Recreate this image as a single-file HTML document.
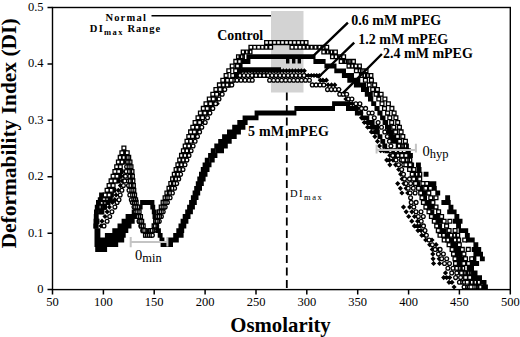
<!DOCTYPE html>
<html><head><meta charset="utf-8"><style>
html,body{margin:0;padding:0;background:#fff;}
svg{display:block;}
</style></head><body>
<svg width="520" height="337" viewBox="0 0 520 337">
<rect width="520" height="337" fill="#fff"/>
<rect x="271" y="11" width="32.5" height="81.5" fill="#d3d3d3"/>
<path d="M94.5 228.2h4.9v4.9h-4.9zM94.5 232.9h4.9v4.9h-4.9zM94.5 237.6h4.9v4.9h-4.9zM94.5 242.2h4.9v4.9h-4.9zM95.2 247.0h4.9v4.9h-4.9zM98.4 247.0h4.9v4.9h-4.9zM102.2 247.0h4.9v4.9h-4.9zM106.0 242.2h4.9v4.9h-4.9zM109.8 242.2h4.9v4.9h-4.9zM113.3 242.2h4.9v4.9h-4.9zM115.6 237.6h4.9v4.9h-4.9zM119.3 237.6h4.9v4.9h-4.9zM120.7 232.9h4.9v4.9h-4.9zM123.4 228.2h4.9v4.9h-4.9zM126.6 223.5h4.9v4.9h-4.9zM129.8 218.8h4.9v4.9h-4.9zM132.5 214.1h4.9v4.9h-4.9zM134.9 209.4h4.9v4.9h-4.9zM137.7 204.7h4.9v4.9h-4.9zM140.1 200.0h4.9v4.9h-4.9zM143.5 200.0h4.9v4.9h-4.9zM146.5 200.0h4.9v4.9h-4.9zM149.5 200.0h4.9v4.9h-4.9zM150.3 204.7h4.9v4.9h-4.9zM151.8 209.4h4.9v4.9h-4.9zM152.5 214.1h4.9v4.9h-4.9zM153.1 218.8h4.9v4.9h-4.9zM154.2 223.5h4.9v4.9h-4.9zM156.0 228.2h4.9v4.9h-4.9zM157.7 232.9h4.9v4.9h-4.9zM159.5 237.6h4.9v4.9h-4.9zM162.1 242.2h4.9v4.9h-4.9zM165.6 242.2h4.9v4.9h-4.9zM168.0 237.6h4.9v4.9h-4.9zM171.0 237.6h4.9v4.9h-4.9zM173.2 232.9h4.9v4.9h-4.9zM176.3 228.2h4.9v4.9h-4.9zM178.5 223.5h4.9v4.9h-4.9zM180.6 218.8h4.9v4.9h-4.9zM182.7 214.1h4.9v4.9h-4.9zM185.2 209.4h4.9v4.9h-4.9zM187.1 204.7h4.9v4.9h-4.9zM189.1 200.0h4.9v4.9h-4.9zM190.9 195.2h4.9v4.9h-4.9zM192.6 190.6h4.9v4.9h-4.9zM194.2 185.9h4.9v4.9h-4.9zM195.8 181.2h4.9v4.9h-4.9zM197.3 176.5h4.9v4.9h-4.9zM199.0 171.8h4.9v4.9h-4.9zM200.8 167.1h4.9v4.9h-4.9zM202.6 162.4h4.9v4.9h-4.9zM204.8 157.7h4.9v4.9h-4.9zM208.1 153.0h4.9v4.9h-4.9zM210.8 148.3h4.9v4.9h-4.9zM214.3 143.6h4.9v4.9h-4.9zM217.6 143.6h4.9v4.9h-4.9zM218.2 138.9h4.9v4.9h-4.9zM221.5 138.9h4.9v4.9h-4.9zM222.1 134.2h4.9v4.9h-4.9zM225.5 134.2h4.9v4.9h-4.9zM227.0 129.5h4.9v4.9h-4.9zM230.7 129.5h4.9v4.9h-4.9zM232.2 124.8h4.9v4.9h-4.9zM235.8 124.8h4.9v4.9h-4.9zM237.3 120.0h4.9v4.9h-4.9zM240.3 120.0h4.9v4.9h-4.9zM242.6 115.4h4.9v4.9h-4.9zM245.9 115.4h4.9v4.9h-4.9zM249.7 115.4h4.9v4.9h-4.9zM253.6 115.4h4.9v4.9h-4.9zM254.6 110.6h4.9v4.9h-4.9zM258.6 110.6h4.9v4.9h-4.9zM262.6 110.6h4.9v4.9h-4.9zM266.6 110.6h4.9v4.9h-4.9zM270.5 110.6h4.9v4.9h-4.9zM274.5 110.6h4.9v4.9h-4.9zM278.3 110.6h4.9v4.9h-4.9zM281.5 110.6h4.9v4.9h-4.9zM285.5 110.6h4.9v4.9h-4.9zM288.5 110.6h4.9v4.9h-4.9zM291.5 110.6h4.9v4.9h-4.9zM294.4 106.0h4.9v4.9h-4.9zM298.3 106.0h4.9v4.9h-4.9zM302.2 106.0h4.9v4.9h-4.9zM306.1 106.0h4.9v4.9h-4.9zM310.1 106.0h4.9v4.9h-4.9zM314.1 106.0h4.9v4.9h-4.9zM318.1 106.0h4.9v4.9h-4.9zM322.1 106.0h4.9v4.9h-4.9zM326.1 106.0h4.9v4.9h-4.9zM330.1 106.0h4.9v4.9h-4.9zM332.1 101.2h4.9v4.9h-4.9zM336.1 101.2h4.9v4.9h-4.9zM339.1 101.2h4.9v4.9h-4.9zM342.1 101.2h4.9v4.9h-4.9zM345.1 101.2h4.9v4.9h-4.9zM346.0 106.0h4.9v4.9h-4.9zM349.6 106.0h4.9v4.9h-4.9zM353.2 106.0h4.9v4.9h-4.9zM354.9 110.6h4.9v4.9h-4.9zM358.2 110.6h4.9v4.9h-4.9zM361.4 115.4h4.9v4.9h-4.9zM364.4 115.4h4.9v4.9h-4.9zM366.5 120.0h4.9v4.9h-4.9zM369.7 120.0h4.9v4.9h-4.9zM371.0 124.8h4.9v4.9h-4.9zM374.2 124.8h4.9v4.9h-4.9zM374.9 129.5h4.9v4.9h-4.9zM377.5 134.2h4.9v4.9h-4.9zM380.3 138.9h4.9v4.9h-4.9zM382.3 143.6h4.9v4.9h-4.9zM384.5 148.3h4.9v4.9h-4.9zM388.0 148.3h4.9v4.9h-4.9zM391.9 148.3h4.9v4.9h-4.9zM393.8 153.0h4.9v4.9h-4.9zM397.7 153.0h4.9v4.9h-4.9zM401.1 153.0h4.9v4.9h-4.9zM401.9 157.7h4.9v4.9h-4.9zM404.5 162.4h4.9v4.9h-4.9zM407.6 162.4h4.9v4.9h-4.9zM408.3 167.1h4.9v4.9h-4.9zM411.3 171.8h4.9v4.9h-4.9zM413.2 176.5h4.9v4.9h-4.9zM415.3 181.2h4.9v4.9h-4.9zM418.4 185.9h4.9v4.9h-4.9zM420.7 190.6h4.9v4.9h-4.9zM422.1 195.2h4.9v4.9h-4.9zM423.8 200.0h4.9v4.9h-4.9zM426.3 204.7h4.9v4.9h-4.9zM429.4 209.4h4.9v4.9h-4.9zM431.9 214.1h4.9v4.9h-4.9zM434.3 218.8h4.9v4.9h-4.9zM437.2 223.5h4.9v4.9h-4.9zM438.9 228.2h4.9v4.9h-4.9zM440.8 232.9h4.9v4.9h-4.9zM444.2 232.9h4.9v4.9h-4.9zM444.9 237.6h4.9v4.9h-4.9zM448.3 237.6h4.9v4.9h-4.9zM449.7 242.2h4.9v4.9h-4.9zM452.6 247.0h4.9v4.9h-4.9zM453.8 251.7h4.9v4.9h-4.9zM455.3 256.4h4.9v4.9h-4.9zM455.5 261.1h4.9v4.9h-4.9zM456.3 265.8h4.9v4.9h-4.9zM459.4 265.8h4.9v4.9h-4.9zM460.1 270.5h4.9v4.9h-4.9zM463.6 270.5h4.9v4.9h-4.9zM464.6 275.2h4.9v4.9h-4.9zM160.6 242.2h4.9v4.9h-4.9zM164.4 242.2h4.9v4.9h-4.9zM168.1 242.2h4.9v4.9h-4.9zM170.6 237.6h4.9v4.9h-4.9zM173.9 237.6h4.9v4.9h-4.9zM175.7 232.9h4.9v4.9h-4.9zM178.7 232.9h4.9v4.9h-4.9zM179.3 228.2h4.9v4.9h-4.9zM181.4 223.5h4.9v4.9h-4.9zM183.5 218.8h4.9v4.9h-4.9zM185.6 214.1h4.9v4.9h-4.9zM188.0 209.4h4.9v4.9h-4.9zM190.0 204.7h4.9v4.9h-4.9zM191.9 200.0h4.9v4.9h-4.9zM193.6 195.2h4.9v4.9h-4.9zM195.3 190.6h4.9v4.9h-4.9zM197.1 185.9h4.9v4.9h-4.9zM198.9 181.2h4.9v4.9h-4.9zM200.7 176.5h4.9v4.9h-4.9zM202.6 171.8h4.9v4.9h-4.9zM204.6 167.1h4.9v4.9h-4.9zM206.6 162.4h4.9v4.9h-4.9zM209.8 157.7h4.9v4.9h-4.9zM212.5 153.0h4.9v4.9h-4.9zM215.8 148.3h4.9v4.9h-4.9zM219.1 148.3h4.9v4.9h-4.9zM219.7 143.6h4.9v4.9h-4.9zM222.9 143.6h4.9v4.9h-4.9zM223.6 138.9h4.9v4.9h-4.9zM226.8 138.9h4.9v4.9h-4.9zM228.3 134.2h4.9v4.9h-4.9zM231.8 134.2h4.9v4.9h-4.9zM232.5 129.5h4.9v4.9h-4.9zM236.0 129.5h4.9v4.9h-4.9zM237.5 124.8h4.9v4.9h-4.9zM240.5 124.8h4.9v4.9h-4.9zM242.7 120.0h4.9v4.9h-4.9zM99.5 237.6h4.9v4.9h-4.9zM103.1 237.6h4.9v4.9h-4.9zM104.9 232.9h4.9v4.9h-4.9zM108.5 232.9h4.9v4.9h-4.9zM112.3 228.2h4.9v4.9h-4.9zM116.0 228.2h4.9v4.9h-4.9zM117.5 223.5h4.9v4.9h-4.9zM120.9 223.5h4.9v4.9h-4.9zM121.6 218.8h4.9v4.9h-4.9zM125.0 218.8h4.9v4.9h-4.9zM125.6 214.1h4.9v4.9h-4.9zM129.4 214.1h4.9v4.9h-4.9zM131.7 209.4h4.9v4.9h-4.9zM135.1 209.4h4.9v4.9h-4.9zM135.7 204.7h4.9v4.9h-4.9zM100.5 242.2h4.9v4.9h-4.9zM104.2 242.2h4.9v4.9h-4.9zM105.1 237.6h4.9v4.9h-4.9zM108.8 237.6h4.9v4.9h-4.9zM111.9 237.6h4.9v4.9h-4.9zM112.7 232.9h4.9v4.9h-4.9zM115.7 232.9h4.9v4.9h-4.9zM117.9 228.2h4.9v4.9h-4.9zM121.2 228.2h4.9v4.9h-4.9zM121.8 223.5h4.9v4.9h-4.9zM125.1 223.5h4.9v4.9h-4.9zM126.4 218.8h4.9v4.9h-4.9zM129.7 218.8h4.9v4.9h-4.9zM130.3 214.1h4.9v4.9h-4.9zM99.5 247.0h4.9v4.9h-4.9zM101.4 242.2h4.9v4.9h-4.9zM105.1 242.2h4.9v4.9h-4.9zM108.7 242.2h4.9v4.9h-4.9zM112.2 237.6h4.9v4.9h-4.9zM116.0 237.6h4.9v4.9h-4.9zM117.5 232.9h4.9v4.9h-4.9zM120.8 232.9h4.9v4.9h-4.9zM121.3 228.2h4.9v4.9h-4.9zM124.6 223.5h4.9v4.9h-4.9zM127.4 218.8h4.9v4.9h-4.9zM130.8 214.1h4.9v4.9h-4.9zM95.5 228.2h4.9v4.9h-4.9zM95.5 232.9h4.9v4.9h-4.9zM95.5 237.6h4.9v4.9h-4.9zM95.9 242.2h4.9v4.9h-4.9zM97.2 247.0h4.9v4.9h-4.9z" fill="#000"/>
<path d="M93.5 223.5h4.9v4.9h-4.9zM94.4 218.8h4.9v4.9h-4.9zM99.3 209.4h4.9v4.9h-4.9zM102.1 204.7h4.9v4.9h-4.9zM105.4 200.0h4.9v4.9h-4.9zM107.7 197.2h4.9v4.9h-4.9zM109.0 192.6h4.9v4.9h-4.9zM111.3 187.9h4.9v4.9h-4.9zM115.7 178.5h4.9v4.9h-4.9zM117.2 173.8h4.9v4.9h-4.9zM118.6 169.1h4.9v4.9h-4.9zM120.8 159.7h4.9v4.9h-4.9zM121.5 155.0h4.9v4.9h-4.9zM122.7 150.3h4.9v4.9h-4.9zM125.2 155.0h4.9v4.9h-4.9zM126.6 159.7h4.9v4.9h-4.9zM128.8 173.8h4.9v4.9h-4.9zM129.3 178.5h4.9v4.9h-4.9zM129.8 183.2h4.9v4.9h-4.9zM130.2 187.9h4.9v4.9h-4.9zM130.8 192.6h4.9v4.9h-4.9zM131.8 197.2h4.9v4.9h-4.9zM132.4 200.0h4.9v4.9h-4.9zM133.4 204.7h4.9v4.9h-4.9zM134.8 209.4h4.9v4.9h-4.9zM136.3 214.1h4.9v4.9h-4.9zM137.7 218.8h4.9v4.9h-4.9zM141.7 228.2h4.9v4.9h-4.9zM145.3 228.2h4.9v4.9h-4.9zM147.9 232.9h4.9v4.9h-4.9zM163.8 200.0h4.9v4.9h-4.9zM166.0 195.2h4.9v4.9h-4.9zM176.4 171.8h4.9v4.9h-4.9zM184.1 153.0h4.9v4.9h-4.9zM186.1 148.3h4.9v4.9h-4.9zM192.4 134.2h4.9v4.9h-4.9zM194.4 129.5h4.9v4.9h-4.9zM196.6 124.8h4.9v4.9h-4.9zM204.6 110.6h4.9v4.9h-4.9zM207.4 106.0h4.9v4.9h-4.9zM210.2 101.2h4.9v4.9h-4.9zM213.6 96.5h4.9v4.9h-4.9zM219.6 87.1h4.9v4.9h-4.9zM226.5 82.5h4.9v4.9h-4.9zM227.2 77.8h4.9v4.9h-4.9zM233.6 73.0h4.9v4.9h-4.9zM236.7 73.0h4.9v4.9h-4.9zM236.9 68.4h4.9v4.9h-4.9zM237.7 63.6h4.9v4.9h-4.9zM238.8 59.0h4.9v4.9h-4.9zM242.1 59.0h4.9v4.9h-4.9zM245.5 59.0h4.9v4.9h-4.9zM246.4 54.2h4.9v4.9h-4.9zM249.8 54.2h4.9v4.9h-4.9zM252.8 54.2h4.9v4.9h-4.9zM255.8 54.2h4.9v4.9h-4.9zM258.8 54.2h4.9v4.9h-4.9zM261.8 54.2h4.9v4.9h-4.9zM264.8 54.2h4.9v4.9h-4.9zM267.8 54.2h4.9v4.9h-4.9zM270.8 54.2h4.9v4.9h-4.9zM273.8 54.2h4.9v4.9h-4.9zM276.8 54.2h4.9v4.9h-4.9zM279.8 54.2h4.9v4.9h-4.9zM282.8 54.2h4.9v4.9h-4.9zM285.8 54.2h4.9v4.9h-4.9zM288.8 54.2h4.9v4.9h-4.9zM291.8 54.2h4.9v4.9h-4.9zM294.8 54.2h4.9v4.9h-4.9zM297.8 54.2h4.9v4.9h-4.9zM300.8 54.2h4.9v4.9h-4.9zM303.8 54.2h4.9v4.9h-4.9zM306.8 54.2h4.9v4.9h-4.9zM310.6 54.2h4.9v4.9h-4.9zM313.4 59.0h4.9v4.9h-4.9zM317.1 59.0h4.9v4.9h-4.9zM320.7 59.0h4.9v4.9h-4.9zM324.4 63.6h4.9v4.9h-4.9zM328.0 63.6h4.9v4.9h-4.9zM331.6 63.6h4.9v4.9h-4.9zM334.3 68.4h4.9v4.9h-4.9zM337.7 68.4h4.9v4.9h-4.9zM341.1 68.4h4.9v4.9h-4.9zM341.9 73.0h4.9v4.9h-4.9zM345.0 73.0h4.9v4.9h-4.9zM347.3 77.8h4.9v4.9h-4.9zM350.4 77.8h4.9v4.9h-4.9zM353.9 82.5h4.9v4.9h-4.9zM357.3 82.5h4.9v4.9h-4.9zM360.4 82.5h4.9v4.9h-4.9zM361.0 87.1h4.9v4.9h-4.9zM364.2 87.1h4.9v4.9h-4.9zM364.8 91.9h4.9v4.9h-4.9zM367.9 91.9h4.9v4.9h-4.9zM368.4 96.5h4.9v4.9h-4.9zM371.2 101.2h4.9v4.9h-4.9zM374.5 106.0h4.9v4.9h-4.9zM377.6 110.6h4.9v4.9h-4.9zM380.1 115.4h4.9v4.9h-4.9zM382.6 120.0h4.9v4.9h-4.9zM385.0 124.8h4.9v4.9h-4.9zM386.9 129.5h4.9v4.9h-4.9zM388.8 134.2h4.9v4.9h-4.9zM390.6 138.9h4.9v4.9h-4.9zM393.8 138.9h4.9v4.9h-4.9zM395.7 143.6h4.9v4.9h-4.9zM398.9 143.6h4.9v4.9h-4.9zM400.0 148.3h4.9v4.9h-4.9zM401.6 153.0h4.9v4.9h-4.9zM403.0 157.7h4.9v4.9h-4.9zM406.1 162.4h4.9v4.9h-4.9zM409.2 162.4h4.9v4.9h-4.9zM409.8 167.1h4.9v4.9h-4.9zM412.5 171.8h4.9v4.9h-4.9zM414.6 176.5h4.9v4.9h-4.9zM422.9 190.6h4.9v4.9h-4.9zM426.5 200.0h4.9v4.9h-4.9zM429.1 204.7h4.9v4.9h-4.9zM434.7 214.1h4.9v4.9h-4.9zM437.6 218.8h4.9v4.9h-4.9zM441.9 228.2h4.9v4.9h-4.9zM443.8 232.9h4.9v4.9h-4.9zM447.9 237.6h4.9v4.9h-4.9zM451.3 237.6h4.9v4.9h-4.9zM452.6 242.2h4.9v4.9h-4.9zM455.6 247.0h4.9v4.9h-4.9zM457.1 251.7h4.9v4.9h-4.9zM458.5 256.4h4.9v4.9h-4.9zM457.9 261.1h4.9v4.9h-4.9zM457.8 265.8h4.9v4.9h-4.9zM461.4 270.5h4.9v4.9h-4.9zM465.4 275.2h4.9v4.9h-4.9zM467.9 279.9h4.9v4.9h-4.9zM472.1 284.6h4.9v4.9h-4.9zM475.8 284.6h4.9v4.9h-4.9zM345.6 73.0h4.9v4.9h-4.9zM349.1 73.0h4.9v4.9h-4.9zM351.8 77.8h4.9v4.9h-4.9zM355.4 77.8h4.9v4.9h-4.9zM357.9 82.5h4.9v4.9h-4.9zM361.1 82.5h4.9v4.9h-4.9zM361.7 87.1h4.9v4.9h-4.9zM365.2 91.9h4.9v4.9h-4.9zM368.0 96.5h4.9v4.9h-4.9zM371.3 101.2h4.9v4.9h-4.9zM374.7 106.0h4.9v4.9h-4.9zM377.4 110.6h4.9v4.9h-4.9zM380.6 115.4h4.9v4.9h-4.9zM383.2 120.0h4.9v4.9h-4.9zM386.2 124.8h4.9v4.9h-4.9zM388.5 129.5h4.9v4.9h-4.9zM390.7 134.2h4.9v4.9h-4.9zM393.7 138.9h4.9v4.9h-4.9zM396.4 143.6h4.9v4.9h-4.9zM400.2 143.6h4.9v4.9h-4.9zM404.0 143.6h4.9v4.9h-4.9zM405.9 148.3h4.9v4.9h-4.9zM408.0 153.0h4.9v4.9h-4.9zM416.0 162.4h4.9v4.9h-4.9zM416.6 167.1h4.9v4.9h-4.9zM423.6 171.8h4.9v4.9h-4.9zM428.1 181.2h4.9v4.9h-4.9zM431.4 181.2h4.9v4.9h-4.9zM431.9 185.9h4.9v4.9h-4.9zM435.3 190.6h4.9v4.9h-4.9zM441.4 200.0h4.9v4.9h-4.9zM447.2 209.4h4.9v4.9h-4.9zM453.0 218.8h4.9v4.9h-4.9zM456.1 223.5h4.9v4.9h-4.9zM458.6 228.2h4.9v4.9h-4.9zM464.9 232.9h4.9v4.9h-4.9zM465.5 237.6h4.9v4.9h-4.9zM468.6 237.6h4.9v4.9h-4.9zM471.7 247.0h4.9v4.9h-4.9zM473.4 251.7h4.9v4.9h-4.9zM471.5 256.4h4.9v4.9h-4.9zM470.7 261.1h4.9v4.9h-4.9zM467.3 261.1h4.9v4.9h-4.9zM466.8 265.8h4.9v4.9h-4.9zM468.1 270.5h4.9v4.9h-4.9zM471.3 270.5h4.9v4.9h-4.9zM471.9 275.2h4.9v4.9h-4.9zM475.0 275.2h4.9v4.9h-4.9zM475.7 279.9h4.9v4.9h-4.9zM479.3 279.9h4.9v4.9h-4.9zM445.2 195.2h4.9v4.9h-4.9zM445.8 200.0h4.9v4.9h-4.9zM448.5 204.7h4.9v4.9h-4.9zM451.7 209.4h4.9v4.9h-4.9zM454.4 214.1h4.9v4.9h-4.9zM457.6 218.8h4.9v4.9h-4.9zM463.3 228.2h4.9v4.9h-4.9zM469.8 237.6h4.9v4.9h-4.9zM473.4 242.2h4.9v4.9h-4.9zM476.3 247.0h4.9v4.9h-4.9zM478.1 251.7h4.9v4.9h-4.9zM479.9 256.4h4.9v4.9h-4.9zM474.2 261.1h4.9v4.9h-4.9zM471.2 261.1h4.9v4.9h-4.9zM469.1 265.8h4.9v4.9h-4.9zM472.6 270.5h4.9v4.9h-4.9zM473.9 275.2h4.9v4.9h-4.9zM477.1 275.2h4.9v4.9h-4.9zM481.6 279.9h4.9v4.9h-4.9zM483.0 284.6h4.9v4.9h-4.9z" fill="#000"/>
<path d="M101.0 223.3l2.6 2.6l-2.6 2.6l-2.6 -2.6zM102.0 218.6l2.6 2.6l-2.6 2.6l-2.6 -2.6zM105.0 213.9l2.6 2.6l-2.6 2.6l-2.6 -2.6zM107.2 209.2l2.6 2.6l-2.6 2.6l-2.6 -2.6zM109.4 204.5l2.6 2.6l-2.6 2.6l-2.6 -2.6zM112.4 199.8l2.6 2.6l-2.6 2.6l-2.6 -2.6zM114.8 197.1l2.6 2.6l-2.6 2.6l-2.6 -2.6zM116.1 192.4l2.6 2.6l-2.6 2.6l-2.6 -2.6zM118.3 187.7l2.6 2.6l-2.6 2.6l-2.6 -2.6zM120.4 183.0l2.6 2.6l-2.6 2.6l-2.6 -2.6zM122.2 178.3l2.6 2.6l-2.6 2.6l-2.6 -2.6zM123.6 173.6l2.6 2.6l-2.6 2.6l-2.6 -2.6zM125.0 168.9l2.6 2.6l-2.6 2.6l-2.6 -2.6zM127.2 159.5l2.6 2.6l-2.6 2.6l-2.6 -2.6zM129.1 164.2l2.6 2.6l-2.6 2.6l-2.6 -2.6zM129.6 168.9l2.6 2.6l-2.6 2.6l-2.6 -2.6zM130.7 178.3l2.6 2.6l-2.6 2.6l-2.6 -2.6zM131.1 183.0l2.6 2.6l-2.6 2.6l-2.6 -2.6zM132.3 192.4l2.6 2.6l-2.6 2.6l-2.6 -2.6zM134.3 199.8l2.6 2.6l-2.6 2.6l-2.6 -2.6zM135.4 204.5l2.6 2.6l-2.6 2.6l-2.6 -2.6zM136.9 209.2l2.6 2.6l-2.6 2.6l-2.6 -2.6zM138.4 213.9l2.6 2.6l-2.6 2.6l-2.6 -2.6zM141.6 223.3l2.6 2.6l-2.6 2.6l-2.6 -2.6zM143.3 228.0l2.6 2.6l-2.6 2.6l-2.6 -2.6zM145.5 232.7l2.6 2.6l-2.6 2.6l-2.6 -2.6zM148.7 232.7l2.6 2.6l-2.6 2.6l-2.6 -2.6zM151.4 232.7l2.6 2.6l-2.6 2.6l-2.6 -2.6zM153.6 228.0l2.6 2.6l-2.6 2.6l-2.6 -2.6zM158.8 218.6l2.6 2.6l-2.6 2.6l-2.6 -2.6zM164.6 204.5l2.6 2.6l-2.6 2.6l-2.6 -2.6zM203.4 119.9l2.6 2.6l-2.6 2.6l-2.6 -2.6zM214.4 101.1l2.6 2.6l-2.6 2.6l-2.6 -2.6zM217.2 101.1l2.6 2.6l-2.6 2.6l-2.6 -2.6zM220.5 91.7l2.6 2.6l-2.6 2.6l-2.6 -2.6zM223.6 87.0l2.6 2.6l-2.6 2.6l-2.6 -2.6zM226.6 82.3l2.6 2.6l-2.6 2.6l-2.6 -2.6zM229.2 82.3l2.6 2.6l-2.6 2.6l-2.6 -2.6zM234.5 77.6l2.6 2.6l-2.6 2.6l-2.6 -2.6zM237.2 77.6l2.6 2.6l-2.6 2.6l-2.6 -2.6zM238.0 72.9l2.6 2.6l-2.6 2.6l-2.6 -2.6zM240.7 72.9l2.6 2.6l-2.6 2.6l-2.6 -2.6zM241.5 68.2l2.6 2.6l-2.6 2.6l-2.6 -2.6zM244.4 68.2l2.6 2.6l-2.6 2.6l-2.6 -2.6zM247.4 68.2l2.6 2.6l-2.6 2.6l-2.6 -2.6zM250.4 68.2l2.6 2.6l-2.6 2.6l-2.6 -2.6zM253.4 68.2l2.6 2.6l-2.6 2.6l-2.6 -2.6zM256.4 68.2l2.6 2.6l-2.6 2.6l-2.6 -2.6zM259.4 68.2l2.6 2.6l-2.6 2.6l-2.6 -2.6zM262.4 68.2l2.6 2.6l-2.6 2.6l-2.6 -2.6zM265.4 68.2l2.6 2.6l-2.6 2.6l-2.6 -2.6zM268.4 68.2l2.6 2.6l-2.6 2.6l-2.6 -2.6zM271.4 68.2l2.6 2.6l-2.6 2.6l-2.6 -2.6zM274.4 68.2l2.6 2.6l-2.6 2.6l-2.6 -2.6zM277.4 68.2l2.6 2.6l-2.6 2.6l-2.6 -2.6zM280.4 68.2l2.6 2.6l-2.6 2.6l-2.6 -2.6zM283.4 68.2l2.6 2.6l-2.6 2.6l-2.6 -2.6zM286.4 68.2l2.6 2.6l-2.6 2.6l-2.6 -2.6zM289.4 68.2l2.6 2.6l-2.6 2.6l-2.6 -2.6zM292.4 68.2l2.6 2.6l-2.6 2.6l-2.6 -2.6zM295.4 68.2l2.6 2.6l-2.6 2.6l-2.6 -2.6zM298.4 68.2l2.6 2.6l-2.6 2.6l-2.6 -2.6zM301.3 68.2l2.6 2.6l-2.6 2.6l-2.6 -2.6zM304.3 68.2l2.6 2.6l-2.6 2.6l-2.6 -2.6zM305.3 72.9l2.6 2.6l-2.6 2.6l-2.6 -2.6zM308.3 72.9l2.6 2.6l-2.6 2.6l-2.6 -2.6zM311.3 72.9l2.6 2.6l-2.6 2.6l-2.6 -2.6zM314.0 72.9l2.6 2.6l-2.6 2.6l-2.6 -2.6zM316.7 72.9l2.6 2.6l-2.6 2.6l-2.6 -2.6zM319.4 72.9l2.6 2.6l-2.6 2.6l-2.6 -2.6zM320.3 77.6l2.6 2.6l-2.6 2.6l-2.6 -2.6zM322.9 77.6l2.6 2.6l-2.6 2.6l-2.6 -2.6zM326.4 77.6l2.6 2.6l-2.6 2.6l-2.6 -2.6zM328.1 82.3l2.6 2.6l-2.6 2.6l-2.6 -2.6zM331.5 82.3l2.6 2.6l-2.6 2.6l-2.6 -2.6zM334.8 82.3l2.6 2.6l-2.6 2.6l-2.6 -2.6zM335.6 87.0l2.6 2.6l-2.6 2.6l-2.6 -2.6zM338.9 87.0l2.6 2.6l-2.6 2.6l-2.6 -2.6zM342.1 91.7l2.6 2.6l-2.6 2.6l-2.6 -2.6zM345.3 91.7l2.6 2.6l-2.6 2.6l-2.6 -2.6zM345.9 96.4l2.6 2.6l-2.6 2.6l-2.6 -2.6zM349.0 96.4l2.6 2.6l-2.6 2.6l-2.6 -2.6zM349.6 101.1l2.6 2.6l-2.6 2.6l-2.6 -2.6zM352.4 101.1l2.6 2.6l-2.6 2.6l-2.6 -2.6zM354.5 105.8l2.6 2.6l-2.6 2.6l-2.6 -2.6zM357.6 105.8l2.6 2.6l-2.6 2.6l-2.6 -2.6zM358.2 110.5l2.6 2.6l-2.6 2.6l-2.6 -2.6zM361.0 110.5l2.6 2.6l-2.6 2.6l-2.6 -2.6zM361.5 115.2l2.6 2.6l-2.6 2.6l-2.6 -2.6zM364.3 119.9l2.6 2.6l-2.6 2.6l-2.6 -2.6zM367.1 119.9l2.6 2.6l-2.6 2.6l-2.6 -2.6zM367.6 124.6l2.6 2.6l-2.6 2.6l-2.6 -2.6zM370.8 124.6l2.6 2.6l-2.6 2.6l-2.6 -2.6zM371.4 129.3l2.6 2.6l-2.6 2.6l-2.6 -2.6zM374.4 129.3l2.6 2.6l-2.6 2.6l-2.6 -2.6zM374.9 134.0l2.6 2.6l-2.6 2.6l-2.6 -2.6zM377.5 138.7l2.6 2.6l-2.6 2.6l-2.6 -2.6zM379.5 143.4l2.6 2.6l-2.6 2.6l-2.6 -2.6zM380.7 148.1l2.6 2.6l-2.6 2.6l-2.6 -2.6zM383.6 148.1l2.6 2.6l-2.6 2.6l-2.6 -2.6zM386.7 157.5l2.6 2.6l-2.6 2.6l-2.6 -2.6zM389.4 157.5l2.6 2.6l-2.6 2.6l-2.6 -2.6zM389.9 162.2l2.6 2.6l-2.6 2.6l-2.6 -2.6zM397.7 181.0l2.6 2.6l-2.6 2.6l-2.6 -2.6zM400.4 185.7l2.6 2.6l-2.6 2.6l-2.6 -2.6zM401.9 190.4l2.6 2.6l-2.6 2.6l-2.6 -2.6zM403.5 204.5l2.6 2.6l-2.6 2.6l-2.6 -2.6zM406.2 209.2l2.6 2.6l-2.6 2.6l-2.6 -2.6zM408.7 213.9l2.6 2.6l-2.6 2.6l-2.6 -2.6zM411.8 218.6l2.6 2.6l-2.6 2.6l-2.6 -2.6zM414.4 223.3l2.6 2.6l-2.6 2.6l-2.6 -2.6zM417.4 223.3l2.6 2.6l-2.6 2.6l-2.6 -2.6zM418.0 228.0l2.6 2.6l-2.6 2.6l-2.6 -2.6zM421.1 228.0l2.6 2.6l-2.6 2.6l-2.6 -2.6zM421.8 232.7l2.6 2.6l-2.6 2.6l-2.6 -2.6zM425.0 232.7l2.6 2.6l-2.6 2.6l-2.6 -2.6zM425.7 237.4l2.6 2.6l-2.6 2.6l-2.6 -2.6zM429.7 242.1l2.6 2.6l-2.6 2.6l-2.6 -2.6zM432.3 246.8l2.6 2.6l-2.6 2.6l-2.6 -2.6zM432.8 251.5l2.6 2.6l-2.6 2.6l-2.6 -2.6zM433.1 256.2l2.6 2.6l-2.6 2.6l-2.6 -2.6zM433.6 260.9l2.6 2.6l-2.6 2.6l-2.6 -2.6zM443.7 275.0l2.6 2.6l-2.6 2.6l-2.6 -2.6zM446.7 275.0l2.6 2.6l-2.6 2.6l-2.6 -2.6zM449.0 279.7l2.6 2.6l-2.6 2.6l-2.6 -2.6zM452.0 279.7l2.6 2.6l-2.6 2.6l-2.6 -2.6zM454.1 284.4l2.6 2.6l-2.6 2.6l-2.6 -2.6zM387.6 148.1l2.6 2.6l-2.6 2.6l-2.6 -2.6zM389.8 152.8l2.6 2.6l-2.6 2.6l-2.6 -2.6zM393.0 157.5l2.6 2.6l-2.6 2.6l-2.6 -2.6zM395.6 162.2l2.6 2.6l-2.6 2.6l-2.6 -2.6zM398.7 166.9l2.6 2.6l-2.6 2.6l-2.6 -2.6zM400.7 171.6l2.6 2.6l-2.6 2.6l-2.6 -2.6zM402.1 176.3l2.6 2.6l-2.6 2.6l-2.6 -2.6zM403.9 181.0l2.6 2.6l-2.6 2.6l-2.6 -2.6zM406.1 185.7l2.6 2.6l-2.6 2.6l-2.6 -2.6zM407.7 190.4l2.6 2.6l-2.6 2.6l-2.6 -2.6zM409.7 204.5l2.6 2.6l-2.6 2.6l-2.6 -2.6zM411.9 209.2l2.6 2.6l-2.6 2.6l-2.6 -2.6zM414.5 213.9l2.6 2.6l-2.6 2.6l-2.6 -2.6zM417.6 218.6l2.6 2.6l-2.6 2.6l-2.6 -2.6zM420.2 223.3l2.6 2.6l-2.6 2.6l-2.6 -2.6zM432.0 237.4l2.6 2.6l-2.6 2.6l-2.6 -2.6zM436.1 242.1l2.6 2.6l-2.6 2.6l-2.6 -2.6zM438.2 246.8l2.6 2.6l-2.6 2.6l-2.6 -2.6zM438.7 251.5l2.6 2.6l-2.6 2.6l-2.6 -2.6zM439.2 256.2l2.6 2.6l-2.6 2.6l-2.6 -2.6zM439.6 260.9l2.6 2.6l-2.6 2.6l-2.6 -2.6zM445.5 270.3l2.6 2.6l-2.6 2.6l-2.6 -2.6zM449.7 275.0l2.6 2.6l-2.6 2.6l-2.6 -2.6z" fill="#000"/>
<path d="M286 58h3.4v5.5h-3.4zM292 58h3.4v5.5h-3.4zM297.6 58h3.4v5.5h-3.4z" fill="#000"/>
<path d="M242 67.2H281V72.4H242z" fill="#000"/>
<g fill="#fff" stroke="#000" stroke-width="1.3"><circle cx="104.0" cy="225.9" r="1.9"/><circle cx="107.1" cy="221.2" r="1.9"/><circle cx="109.7" cy="216.5" r="1.9"/><circle cx="111.9" cy="211.8" r="1.9"/><circle cx="114.9" cy="207.1" r="1.9"/><circle cx="117.1" cy="202.4" r="1.9"/><circle cx="119.0" cy="199.7" r="1.9"/><circle cx="120.2" cy="195.0" r="1.9"/><circle cx="121.9" cy="190.3" r="1.9"/><circle cx="123.4" cy="185.6" r="1.9"/><circle cx="124.8" cy="180.9" r="1.9"/><circle cx="125.5" cy="176.2" r="1.9"/><circle cx="126.1" cy="171.5" r="1.9"/><circle cx="126.6" cy="166.8" r="1.9"/><circle cx="127.9" cy="162.1" r="1.9"/><circle cx="128.5" cy="180.9" r="1.9"/><circle cx="128.5" cy="185.6" r="1.9"/><circle cx="129.0" cy="190.3" r="1.9"/><circle cx="129.8" cy="195.0" r="1.9"/><circle cx="131.3" cy="199.7" r="1.9"/><circle cx="132.3" cy="202.4" r="1.9"/><circle cx="134.0" cy="207.1" r="1.9"/><circle cx="135.6" cy="211.8" r="1.9"/><circle cx="137.3" cy="216.5" r="1.9"/><circle cx="139.0" cy="221.2" r="1.9"/><circle cx="140.8" cy="225.9" r="1.9"/><circle cx="142.7" cy="230.6" r="1.9"/><circle cx="145.5" cy="235.3" r="1.9"/><circle cx="148.8" cy="235.3" r="1.9"/><circle cx="152.4" cy="235.3" r="1.9"/><circle cx="154.1" cy="230.6" r="1.9"/><circle cx="156.6" cy="225.9" r="1.9"/><circle cx="159.3" cy="221.2" r="1.9"/><circle cx="161.4" cy="216.5" r="1.9"/><circle cx="163.2" cy="211.8" r="1.9"/><circle cx="165.2" cy="207.1" r="1.9"/><circle cx="167.4" cy="202.4" r="1.9"/><circle cx="170.1" cy="197.7" r="1.9"/><circle cx="172.4" cy="193.0" r="1.9"/><circle cx="174.6" cy="188.3" r="1.9"/><circle cx="176.7" cy="183.6" r="1.9"/><circle cx="178.7" cy="178.9" r="1.9"/><circle cx="180.6" cy="174.2" r="1.9"/><circle cx="183.0" cy="169.5" r="1.9"/><circle cx="185.0" cy="164.8" r="1.9"/><circle cx="186.9" cy="160.1" r="1.9"/><circle cx="189.0" cy="155.4" r="1.9"/><circle cx="191.1" cy="150.7" r="1.9"/><circle cx="193.1" cy="146.0" r="1.9"/><circle cx="195.1" cy="141.3" r="1.9"/><circle cx="197.5" cy="136.6" r="1.9"/><circle cx="199.6" cy="131.9" r="1.9"/><circle cx="201.8" cy="127.2" r="1.9"/><circle cx="205.2" cy="122.5" r="1.9"/><circle cx="207.5" cy="117.8" r="1.9"/><circle cx="209.9" cy="113.1" r="1.9"/><circle cx="212.8" cy="108.4" r="1.9"/><circle cx="215.6" cy="103.7" r="1.9"/><circle cx="219.0" cy="99.0" r="1.9"/><circle cx="222.2" cy="94.3" r="1.9"/><circle cx="224.8" cy="89.6" r="1.9"/><circle cx="228.3" cy="84.9" r="1.9"/><circle cx="231.8" cy="84.9" r="1.9"/><circle cx="233.4" cy="80.2" r="1.9"/><circle cx="237.0" cy="80.2" r="1.9"/><circle cx="241.0" cy="80.2" r="1.9"/><circle cx="245.0" cy="80.2" r="1.9"/><circle cx="249.0" cy="80.2" r="1.9"/><circle cx="252.3" cy="80.2" r="1.9"/><circle cx="253.6" cy="75.5" r="1.9"/><circle cx="257.8" cy="75.5" r="1.9"/><circle cx="261.8" cy="75.5" r="1.9"/><circle cx="265.8" cy="75.5" r="1.9"/><circle cx="269.6" cy="80.2" r="1.9"/><circle cx="273.6" cy="80.2" r="1.9"/><circle cx="277.6" cy="80.2" r="1.9"/><circle cx="281.6" cy="80.2" r="1.9"/><circle cx="285.6" cy="80.2" r="1.9"/><circle cx="289.6" cy="80.2" r="1.9"/><circle cx="293.6" cy="80.2" r="1.9"/><circle cx="297.6" cy="80.2" r="1.9"/><circle cx="301.5" cy="80.2" r="1.9"/><circle cx="305.5" cy="80.2" r="1.9"/><circle cx="309.4" cy="80.2" r="1.9"/><circle cx="312.3" cy="84.9" r="1.9"/><circle cx="316.1" cy="84.9" r="1.9"/><circle cx="320.0" cy="84.9" r="1.9"/><circle cx="323.8" cy="84.9" r="1.9"/><circle cx="327.5" cy="89.6" r="1.9"/><circle cx="331.3" cy="89.6" r="1.9"/><circle cx="335.1" cy="89.6" r="1.9"/><circle cx="338.8" cy="89.6" r="1.9"/><circle cx="339.7" cy="94.3" r="1.9"/><circle cx="343.3" cy="94.3" r="1.9"/><circle cx="346.7" cy="94.3" r="1.9"/><circle cx="348.5" cy="99.0" r="1.9"/><circle cx="351.9" cy="99.0" r="1.9"/><circle cx="355.9" cy="103.7" r="1.9"/><circle cx="359.9" cy="103.7" r="1.9"/><circle cx="361.5" cy="108.4" r="1.9"/><circle cx="365.6" cy="108.4" r="1.9"/><circle cx="368.9" cy="113.1" r="1.9"/><circle cx="372.2" cy="113.1" r="1.9"/><circle cx="374.3" cy="117.8" r="1.9"/><circle cx="378.1" cy="122.5" r="1.9"/><circle cx="381.5" cy="127.2" r="1.9"/><circle cx="384.8" cy="131.9" r="1.9"/><circle cx="387.3" cy="136.6" r="1.9"/><circle cx="389.4" cy="141.3" r="1.9"/><circle cx="390.9" cy="146.0" r="1.9"/><circle cx="390.3" cy="150.7" r="1.9"/><circle cx="392.8" cy="155.4" r="1.9"/><circle cx="396.0" cy="160.1" r="1.9"/><circle cx="398.6" cy="164.8" r="1.9"/><circle cx="401.7" cy="169.5" r="1.9"/><circle cx="403.5" cy="174.2" r="1.9"/><circle cx="404.5" cy="178.9" r="1.9"/><circle cx="406.0" cy="183.6" r="1.9"/><circle cx="408.3" cy="188.3" r="1.9"/><circle cx="410.1" cy="193.0" r="1.9"/><circle cx="410.6" cy="197.7" r="1.9"/><circle cx="411.2" cy="202.4" r="1.9"/><circle cx="413.8" cy="207.1" r="1.9"/><circle cx="416.0" cy="211.8" r="1.9"/><circle cx="418.3" cy="216.5" r="1.9"/><circle cx="421.2" cy="221.2" r="1.9"/><circle cx="423.5" cy="225.9" r="1.9"/><circle cx="425.0" cy="230.6" r="1.9"/><circle cx="426.4" cy="235.3" r="1.9"/><circle cx="429.1" cy="240.0" r="1.9"/><circle cx="432.4" cy="244.7" r="1.9"/><circle cx="435.1" cy="249.4" r="1.9"/><circle cx="438.4" cy="254.1" r="1.9"/><circle cx="441.7" cy="258.8" r="1.9"/><circle cx="444.5" cy="263.5" r="1.9"/><circle cx="447.9" cy="268.2" r="1.9"/><circle cx="451.7" cy="272.9" r="1.9"/><circle cx="455.6" cy="277.6" r="1.9"/><circle cx="459.4" cy="282.3" r="1.9"/><circle cx="462.7" cy="282.3" r="1.9"/><circle cx="464.1" cy="287.0" r="1.9"/><circle cx="467.7" cy="287.0" r="1.9"/><circle cx="240.0" cy="75.5" r="1.9"/><circle cx="244.0" cy="75.5" r="1.9"/><circle cx="248.0" cy="75.5" r="1.9"/><circle cx="252.0" cy="75.5" r="1.9"/><circle cx="256.0" cy="75.5" r="1.9"/><circle cx="260.0" cy="75.5" r="1.9"/><circle cx="264.0" cy="75.5" r="1.9"/><circle cx="268.0" cy="75.5" r="1.9"/><circle cx="272.0" cy="75.5" r="1.9"/><circle cx="276.0" cy="75.5" r="1.9"/><circle cx="280.0" cy="75.5" r="1.9"/><circle cx="284.0" cy="75.5" r="1.9"/><circle cx="288.0" cy="75.5" r="1.9"/><circle cx="292.0" cy="75.5" r="1.9"/><circle cx="296.0" cy="75.5" r="1.9"/><circle cx="300.0" cy="75.5" r="1.9"/><circle cx="304.0" cy="75.5" r="1.9"/><circle cx="395.9" cy="150.7" r="1.9"/><circle cx="397.9" cy="155.4" r="1.9"/><circle cx="401.1" cy="160.1" r="1.9"/><circle cx="403.7" cy="164.8" r="1.9"/><circle cx="409.5" cy="178.9" r="1.9"/><circle cx="410.6" cy="183.6" r="1.9"/><circle cx="413.3" cy="188.3" r="1.9"/><circle cx="415.1" cy="193.0" r="1.9"/><circle cx="416.1" cy="202.4" r="1.9"/><circle cx="421.0" cy="211.8" r="1.9"/><circle cx="423.3" cy="216.5" r="1.9"/><circle cx="440.1" cy="249.4" r="1.9"/><circle cx="443.4" cy="254.1" r="1.9"/><circle cx="446.7" cy="258.8" r="1.9"/><circle cx="449.5" cy="263.5" r="1.9"/><circle cx="453.0" cy="268.2" r="1.9"/><circle cx="456.8" cy="272.9" r="1.9"/><circle cx="460.6" cy="277.6" r="1.9"/><circle cx="464.4" cy="282.3" r="1.9"/><circle cx="469.2" cy="287.0" r="1.9"/></g>
<path d="M96.1 209.9h3.8v3.8h-3.8zM97.3 205.2h3.8v3.8h-3.8zM99.3 200.5h3.8v3.8h-3.8zM102.0 197.8h3.8v3.8h-3.8zM103.2 193.1h3.8v3.8h-3.8zM105.2 188.4h3.8v3.8h-3.8zM107.2 183.7h3.8v3.8h-3.8zM109.2 179.0h3.8v3.8h-3.8zM111.2 174.3h3.8v3.8h-3.8zM113.0 169.6h3.8v3.8h-3.8zM114.8 164.9h3.8v3.8h-3.8zM116.5 160.2h3.8v3.8h-3.8zM118.3 155.5h3.8v3.8h-3.8zM120.0 150.8h3.8v3.8h-3.8zM122.0 146.1h3.8v3.8h-3.8zM125.3 150.8h3.8v3.8h-3.8zM126.8 155.5h3.8v3.8h-3.8zM128.1 160.2h3.8v3.8h-3.8zM129.1 164.9h3.8v3.8h-3.8zM130.1 169.6h3.8v3.8h-3.8zM130.5 174.3h3.8v3.8h-3.8zM131.0 179.0h3.8v3.8h-3.8zM131.5 183.7h3.8v3.8h-3.8zM131.9 188.4h3.8v3.8h-3.8zM132.7 193.1h3.8v3.8h-3.8zM133.7 197.8h3.8v3.8h-3.8zM134.3 200.5h3.8v3.8h-3.8zM135.8 205.2h3.8v3.8h-3.8zM137.2 209.9h3.8v3.8h-3.8zM138.6 214.6h3.8v3.8h-3.8zM139.8 219.3h3.8v3.8h-3.8zM141.3 224.0h3.8v3.8h-3.8zM142.9 228.7h3.8v3.8h-3.8zM145.5 233.4h3.8v3.8h-3.8zM149.0 228.7h3.8v3.8h-3.8zM152.2 224.0h3.8v3.8h-3.8zM154.1 219.3h3.8v3.8h-3.8zM155.9 214.6h3.8v3.8h-3.8zM157.5 209.9h3.8v3.8h-3.8zM159.3 205.2h3.8v3.8h-3.8zM161.2 200.5h3.8v3.8h-3.8zM163.2 195.8h3.8v3.8h-3.8zM165.0 191.1h3.8v3.8h-3.8zM167.1 186.4h3.8v3.8h-3.8zM168.9 181.7h3.8v3.8h-3.8zM170.7 177.0h3.8v3.8h-3.8zM172.4 172.3h3.8v3.8h-3.8zM174.2 167.6h3.8v3.8h-3.8zM176.0 162.9h3.8v3.8h-3.8zM177.8 158.2h3.8v3.8h-3.8zM179.6 153.5h3.8v3.8h-3.8zM181.5 148.8h3.8v3.8h-3.8zM183.3 144.1h3.8v3.8h-3.8zM185.1 139.4h3.8v3.8h-3.8zM186.9 134.7h3.8v3.8h-3.8zM188.7 130.0h3.8v3.8h-3.8zM190.9 125.3h3.8v3.8h-3.8zM193.2 120.6h3.8v3.8h-3.8zM196.1 115.9h3.8v3.8h-3.8zM198.5 111.2h3.8v3.8h-3.8zM201.4 106.5h3.8v3.8h-3.8zM204.1 101.8h3.8v3.8h-3.8zM207.4 97.1h3.8v3.8h-3.8zM210.9 92.4h3.8v3.8h-3.8zM214.0 87.7h3.8v3.8h-3.8zM217.5 83.0h3.8v3.8h-3.8zM220.9 78.3h3.8v3.8h-3.8zM224.2 73.6h3.8v3.8h-3.8zM226.9 68.9h3.8v3.8h-3.8zM230.3 64.2h3.8v3.8h-3.8zM233.9 59.5h3.8v3.8h-3.8zM236.6 54.8h3.8v3.8h-3.8zM240.5 54.8h3.8v3.8h-3.8zM241.3 50.1h3.8v3.8h-3.8zM244.6 50.1h3.8v3.8h-3.8zM248.1 50.1h3.8v3.8h-3.8zM249.0 45.4h3.8v3.8h-3.8zM252.7 45.4h3.8v3.8h-3.8zM256.7 45.4h3.8v3.8h-3.8zM260.7 45.4h3.8v3.8h-3.8zM264.1 45.4h3.8v3.8h-3.8zM264.7 40.7h3.8v3.8h-3.8zM268.6 40.7h3.8v3.8h-3.8zM272.6 40.7h3.8v3.8h-3.8zM276.6 40.7h3.8v3.8h-3.8zM280.6 40.7h3.8v3.8h-3.8zM284.6 40.7h3.8v3.8h-3.8zM288.6 40.7h3.8v3.8h-3.8zM292.6 40.7h3.8v3.8h-3.8zM296.6 40.7h3.8v3.8h-3.8zM300.6 40.7h3.8v3.8h-3.8zM304.1 40.7h3.8v3.8h-3.8zM305.3 45.4h3.8v3.8h-3.8zM309.2 45.4h3.8v3.8h-3.8zM313.2 45.4h3.8v3.8h-3.8zM317.2 45.4h3.8v3.8h-3.8zM321.2 45.4h3.8v3.8h-3.8zM324.8 45.4h3.8v3.8h-3.8zM326.5 50.1h3.8v3.8h-3.8zM329.9 50.1h3.8v3.8h-3.8zM333.5 50.1h3.8v3.8h-3.8zM334.4 54.8h3.8v3.8h-3.8zM338.0 54.8h3.8v3.8h-3.8zM341.7 54.8h3.8v3.8h-3.8zM344.4 59.5h3.8v3.8h-3.8zM348.0 59.5h3.8v3.8h-3.8zM351.5 59.5h3.8v3.8h-3.8zM354.2 64.2h3.8v3.8h-3.8zM357.5 64.2h3.8v3.8h-3.8zM360.4 68.9h3.8v3.8h-3.8zM364.1 68.9h3.8v3.8h-3.8zM365.6 73.6h3.8v3.8h-3.8zM369.0 73.6h3.8v3.8h-3.8zM369.5 78.3h3.8v3.8h-3.8zM372.7 83.0h3.8v3.8h-3.8zM375.5 87.7h3.8v3.8h-3.8zM379.2 92.4h3.8v3.8h-3.8zM383.0 97.1h3.8v3.8h-3.8zM386.5 101.8h3.8v3.8h-3.8zM390.0 106.5h3.8v3.8h-3.8zM392.2 111.2h3.8v3.8h-3.8zM394.0 115.9h3.8v3.8h-3.8zM395.8 120.6h3.8v3.8h-3.8zM397.5 125.3h3.8v3.8h-3.8zM399.2 130.0h3.8v3.8h-3.8zM400.9 134.7h3.8v3.8h-3.8zM403.5 139.4h3.8v3.8h-3.8zM402.9 144.1h3.8v3.8h-3.8zM402.4 148.8h3.8v3.8h-3.8zM404.1 153.5h3.8v3.8h-3.8zM405.6 158.2h3.8v3.8h-3.8zM408.2 162.9h3.8v3.8h-3.8zM412.0 167.6h3.8v3.8h-3.8zM415.4 172.3h3.8v3.8h-3.8zM417.8 177.0h3.8v3.8h-3.8zM421.0 181.7h3.8v3.8h-3.8zM423.8 186.4h3.8v3.8h-3.8zM426.9 191.1h3.8v3.8h-3.8zM428.9 195.8h3.8v3.8h-3.8zM431.0 200.5h3.8v3.8h-3.8zM434.1 205.2h3.8v3.8h-3.8zM436.7 209.9h3.8v3.8h-3.8zM439.7 214.6h3.8v3.8h-3.8zM442.2 219.3h3.8v3.8h-3.8zM444.7 224.0h3.8v3.8h-3.8zM447.2 228.7h3.8v3.8h-3.8zM449.4 233.4h3.8v3.8h-3.8zM452.7 233.4h3.8v3.8h-3.8zM453.4 238.1h3.8v3.8h-3.8zM456.7 238.1h3.8v3.8h-3.8zM457.4 242.8h3.8v3.8h-3.8zM460.4 247.5h3.8v3.8h-3.8zM462.0 252.2h3.8v3.8h-3.8zM463.6 256.9h3.8v3.8h-3.8zM461.9 261.6h3.8v3.8h-3.8zM460.8 266.3h3.8v3.8h-3.8zM464.0 271.0h3.8v3.8h-3.8zM467.4 271.0h3.8v3.8h-3.8zM467.9 275.7h3.8v3.8h-3.8zM470.3 280.4h3.8v3.8h-3.8zM473.5 280.4h3.8v3.8h-3.8zM475.0 285.1h3.8v3.8h-3.8zM478.8 285.1h3.8v3.8h-3.8zM99.1 209.9h3.8v3.8h-3.8zM101.8 205.2h3.8v3.8h-3.8zM103.8 200.5h3.8v3.8h-3.8zM105.8 197.8h3.8v3.8h-3.8zM107.2 193.1h3.8v3.8h-3.8zM109.3 188.4h3.8v3.8h-3.8zM111.2 183.7h3.8v3.8h-3.8zM113.2 179.0h3.8v3.8h-3.8zM115.1 174.3h3.8v3.8h-3.8zM116.8 169.6h3.8v3.8h-3.8zM118.4 164.9h3.8v3.8h-3.8zM120.0 160.2h3.8v3.8h-3.8zM121.6 155.5h3.8v3.8h-3.8zM125.2 155.5h3.8v3.8h-3.8zM126.0 160.2h3.8v3.8h-3.8zM127.2 164.9h3.8v3.8h-3.8zM127.7 169.6h3.8v3.8h-3.8zM128.1 174.3h3.8v3.8h-3.8zM128.6 179.0h3.8v3.8h-3.8zM129.1 183.7h3.8v3.8h-3.8zM130.0 188.4h3.8v3.8h-3.8zM130.8 193.1h3.8v3.8h-3.8zM131.9 197.8h3.8v3.8h-3.8zM132.5 200.5h3.8v3.8h-3.8zM133.8 205.2h3.8v3.8h-3.8zM135.2 209.9h3.8v3.8h-3.8zM136.7 214.6h3.8v3.8h-3.8zM138.1 219.3h3.8v3.8h-3.8zM139.6 224.0h3.8v3.8h-3.8zM141.4 228.7h3.8v3.8h-3.8zM143.6 233.4h3.8v3.8h-3.8zM147.3 233.4h3.8v3.8h-3.8zM150.5 228.7h3.8v3.8h-3.8zM153.6 224.0h3.8v3.8h-3.8zM155.7 219.3h3.8v3.8h-3.8zM157.6 214.6h3.8v3.8h-3.8zM159.3 209.9h3.8v3.8h-3.8zM161.2 205.2h3.8v3.8h-3.8zM163.2 200.5h3.8v3.8h-3.8zM165.3 195.8h3.8v3.8h-3.8zM167.4 191.1h3.8v3.8h-3.8zM169.8 186.4h3.8v3.8h-3.8zM171.6 181.7h3.8v3.8h-3.8zM173.5 177.0h3.8v3.8h-3.8zM175.4 172.3h3.8v3.8h-3.8zM177.2 167.6h3.8v3.8h-3.8zM179.1 162.9h3.8v3.8h-3.8zM181.0 158.2h3.8v3.8h-3.8zM182.9 153.5h3.8v3.8h-3.8zM184.8 148.8h3.8v3.8h-3.8zM186.8 144.1h3.8v3.8h-3.8zM188.7 139.4h3.8v3.8h-3.8zM190.6 134.7h3.8v3.8h-3.8zM192.5 130.0h3.8v3.8h-3.8zM195.1 125.3h3.8v3.8h-3.8zM197.7 120.6h3.8v3.8h-3.8zM200.6 115.9h3.8v3.8h-3.8zM203.0 111.2h3.8v3.8h-3.8zM205.3 106.5h3.8v3.8h-3.8zM208.6 101.8h3.8v3.8h-3.8zM211.4 97.1h3.8v3.8h-3.8zM214.8 92.4h3.8v3.8h-3.8zM218.2 87.7h3.8v3.8h-3.8zM221.7 83.0h3.8v3.8h-3.8zM225.0 83.0h3.8v3.8h-3.8zM225.6 78.3h3.8v3.8h-3.8zM229.2 78.3h3.8v3.8h-3.8zM230.8 73.6h3.8v3.8h-3.8zM233.8 68.9h3.8v3.8h-3.8zM235.6 64.2h3.8v3.8h-3.8zM237.4 59.5h3.8v3.8h-3.8zM239.1 54.8h3.8v3.8h-3.8zM241.4 50.1h3.8v3.8h-3.8zM245.5 50.1h3.8v3.8h-3.8zM249.1 45.4h3.8v3.8h-3.8zM252.8 45.4h3.8v3.8h-3.8zM256.7 45.4h3.8v3.8h-3.8zM260.7 45.4h3.8v3.8h-3.8zM264.7 45.4h3.8v3.8h-3.8zM268.7 45.4h3.8v3.8h-3.8zM290.1 45.4h3.8v3.8h-3.8zM294.1 45.4h3.8v3.8h-3.8zM298.1 45.4h3.8v3.8h-3.8zM302.1 45.4h3.8v3.8h-3.8zM306.1 45.4h3.8v3.8h-3.8zM310.1 45.4h3.8v3.8h-3.8zM314.1 45.4h3.8v3.8h-3.8zM318.0 45.4h3.8v3.8h-3.8zM321.9 50.1h3.8v3.8h-3.8zM325.4 50.1h3.8v3.8h-3.8zM328.9 50.1h3.8v3.8h-3.8zM330.6 54.8h3.8v3.8h-3.8zM334.0 54.8h3.8v3.8h-3.8zM337.6 54.8h3.8v3.8h-3.8zM339.3 59.5h3.8v3.8h-3.8zM342.8 59.5h3.8v3.8h-3.8zM346.2 59.5h3.8v3.8h-3.8zM347.1 64.2h3.8v3.8h-3.8zM350.4 64.2h3.8v3.8h-3.8zM353.7 64.2h3.8v3.8h-3.8zM354.5 68.9h3.8v3.8h-3.8zM358.2 68.9h3.8v3.8h-3.8zM359.5 73.6h3.8v3.8h-3.8zM362.9 73.6h3.8v3.8h-3.8zM363.5 78.3h3.8v3.8h-3.8zM367.3 83.0h3.8v3.8h-3.8zM370.8 87.7h3.8v3.8h-3.8zM374.2 92.4h3.8v3.8h-3.8zM376.9 97.1h3.8v3.8h-3.8zM380.1 101.8h3.8v3.8h-3.8zM382.6 106.5h3.8v3.8h-3.8zM385.7 111.2h3.8v3.8h-3.8zM387.9 115.9h3.8v3.8h-3.8zM389.8 120.6h3.8v3.8h-3.8zM391.8 125.3h3.8v3.8h-3.8zM393.7 130.0h3.8v3.8h-3.8zM395.6 134.7h3.8v3.8h-3.8zM397.7 139.4h3.8v3.8h-3.8zM400.6 144.1h3.8v3.8h-3.8zM397.4 144.1h3.8v3.8h-3.8zM398.6 148.8h3.8v3.8h-3.8zM400.0 153.5h3.8v3.8h-3.8zM401.1 158.2h3.8v3.8h-3.8zM404.0 162.9h3.8v3.8h-3.8zM407.7 167.6h3.8v3.8h-3.8zM410.3 172.3h3.8v3.8h-3.8zM411.8 177.0h3.8v3.8h-3.8zM413.7 181.7h3.8v3.8h-3.8zM416.6 186.4h3.8v3.8h-3.8zM418.8 191.1h3.8v3.8h-3.8zM420.1 195.8h3.8v3.8h-3.8zM421.5 200.5h3.8v3.8h-3.8zM424.0 205.2h3.8v3.8h-3.8zM427.1 209.9h3.8v3.8h-3.8zM429.5 214.6h3.8v3.8h-3.8zM432.4 219.3h3.8v3.8h-3.8zM434.8 224.0h3.8v3.8h-3.8zM436.4 228.7h3.8v3.8h-3.8zM438.1 233.4h3.8v3.8h-3.8zM441.6 233.4h3.8v3.8h-3.8zM442.3 238.1h3.8v3.8h-3.8zM445.8 238.1h3.8v3.8h-3.8zM447.2 242.8h3.8v3.8h-3.8zM450.2 247.5h3.8v3.8h-3.8zM451.6 252.2h3.8v3.8h-3.8zM453.1 256.9h3.8v3.8h-3.8zM453.6 261.6h3.8v3.8h-3.8zM455.0 266.3h3.8v3.8h-3.8zM458.3 266.3h3.8v3.8h-3.8zM459.7 271.0h3.8v3.8h-3.8zM463.2 271.0h3.8v3.8h-3.8zM463.7 275.7h3.8v3.8h-3.8zM465.3 280.4h3.8v3.8h-3.8zM469.1 285.1h3.8v3.8h-3.8zM472.9 285.1h3.8v3.8h-3.8zM407.9 158.2h3.8v3.8h-3.8zM417.9 172.3h3.8v3.8h-3.8zM424.9 181.7h3.8v3.8h-3.8zM428.5 186.4h3.8v3.8h-3.8zM434.1 195.8h3.8v3.8h-3.8zM448.0 219.3h3.8v3.8h-3.8zM453.2 228.7h3.8v3.8h-3.8zM455.8 233.4h3.8v3.8h-3.8zM462.8 238.1h3.8v3.8h-3.8zM466.4 247.5h3.8v3.8h-3.8zM469.8 256.9h3.8v3.8h-3.8zM466.6 261.6h3.8v3.8h-3.8zM465.9 271.0h3.8v3.8h-3.8zM473.1 280.4h3.8v3.8h-3.8zM476.6 280.4h3.8v3.8h-3.8zM478.1 285.1h3.8v3.8h-3.8z" fill="#fff" stroke="#000" stroke-width="1.3"/>
<path d="M93.5 223.5h4.9v4.9h-4.9zM94.4 218.8h4.9v4.9h-4.9zM99.3 209.4h4.9v4.9h-4.9zM102.1 204.7h4.9v4.9h-4.9zM105.4 200.0h4.9v4.9h-4.9zM107.7 197.2h4.9v4.9h-4.9zM93.5 218.8h4.9v4.9h-4.9zM93.8 214.1h4.9v4.9h-4.9zM94.0 209.4h4.9v4.9h-4.9zM94.8 204.7h4.9v4.9h-4.9zM96.0 200.0h4.9v4.9h-4.9zM97.8 197.2h4.9v4.9h-4.9zM99.1 192.6h4.9v4.9h-4.9z" fill="#000"/>
<rect x="52.5" y="7.5" width="457.8" height="282.1" fill="none" stroke="#000" stroke-width="1.4"/>
<path d="M52.5 289.6 v5 M103.4 289.6 v5 M154.2 289.6 v5 M205.1 289.6 v5 M256.0 289.6 v5 M306.8 289.6 v5 M357.7 289.6 v5 M408.6 289.6 v5 M459.4 289.6 v5 M510.3 289.6 v5 M52.5 289.6 h-5 M52.5 233.2 h-5 M52.5 176.8 h-5 M52.5 120.3 h-5 M52.5 63.9 h-5 M52.5 7.5 h-5" stroke="#000" stroke-width="1.5" fill="none"/>
<text x="52.5" y="306.3" font-family="Liberation Serif" font-size="12.5" text-anchor="middle">50</text>
<text x="103.4" y="306.3" font-family="Liberation Serif" font-size="12.5" text-anchor="middle">100</text>
<text x="154.2" y="306.3" font-family="Liberation Serif" font-size="12.5" text-anchor="middle">150</text>
<text x="205.1" y="306.3" font-family="Liberation Serif" font-size="12.5" text-anchor="middle">200</text>
<text x="256.0" y="306.3" font-family="Liberation Serif" font-size="12.5" text-anchor="middle">250</text>
<text x="306.8" y="306.3" font-family="Liberation Serif" font-size="12.5" text-anchor="middle">300</text>
<text x="357.7" y="306.3" font-family="Liberation Serif" font-size="12.5" text-anchor="middle">350</text>
<text x="408.6" y="306.3" font-family="Liberation Serif" font-size="12.5" text-anchor="middle">400</text>
<text x="459.4" y="306.3" font-family="Liberation Serif" font-size="12.5" text-anchor="middle">450</text>
<text x="510.3" y="306.3" font-family="Liberation Serif" font-size="12.5" text-anchor="middle">500</text>
<text x="43.5" y="292.9" font-family="Liberation Serif" font-size="12.5" text-anchor="end">0</text>
<text x="43.5" y="236.5" font-family="Liberation Serif" font-size="12.5" text-anchor="end">0.1</text>
<text x="43.5" y="180.1" font-family="Liberation Serif" font-size="12.5" text-anchor="end">0.2</text>
<text x="43.5" y="123.6" font-family="Liberation Serif" font-size="12.5" text-anchor="end">0.3</text>
<text x="43.5" y="67.2" font-family="Liberation Serif" font-size="12.5" text-anchor="end">0.4</text>
<text x="43.5" y="10.8" font-family="Liberation Serif" font-size="12.5" text-anchor="end">0.5</text>
<text x="280.5" y="331.8" font-family="Liberation Serif" font-size="21" font-weight="bold" text-anchor="middle" textLength="100.5" lengthAdjust="spacingAndGlyphs">Osmolarity</text>
<text transform="translate(16.3,133.4) rotate(-90)" font-family="Liberation Serif" font-size="21" font-weight="bold" text-anchor="middle" textLength="230" lengthAdjust="spacingAndGlyphs">Deformability Index (DI)</text>
<path d="M151.5 15.8H271" stroke="#000" stroke-width="1.6"/>
<text x="105.4" y="21" font-family="Liberation Serif" font-size="10.5" font-weight="bold" letter-spacing="1.2">Normal</text>
<text x="89.8" y="32.2" font-family="Liberation Serif" font-size="10.5" font-weight="bold" letter-spacing="1.3">DI<tspan font-size="8.5" dy="2.6" letter-spacing="1.4">max</tspan><tspan dy="-2.6" letter-spacing="1.0"> Range</tspan></text>
<text x="217.2" y="39.8" font-family="Liberation Serif" font-size="14.5" font-weight="bold" textLength="46" lengthAdjust="spacingAndGlyphs">Control</text>
<text x="351.3" y="25.2" font-family="Liberation Serif" font-size="14" font-weight="bold">0.6 mM mPEG</text>
<text x="358.3" y="44" font-family="Liberation Serif" font-size="14" font-weight="bold">1.2 mM mPEG</text>
<text x="383" y="58" font-family="Liberation Serif" font-size="14" font-weight="bold">2.4 mM mPEG</text>
<text x="248" y="135.8" font-family="Liberation Serif" font-size="14" font-weight="bold" textLength="81" lengthAdjust="spacing">5 mM mPEG</text>
<path d="M347.9 22.6L311.3 57.9M354.2 42.7L317.6 78M381.9 54L342.9 93.1" stroke="#000" stroke-width="2.4"/>
<path d="M286.8 92.5V289" stroke="#000" stroke-width="1.8" stroke-dasharray="8 4.5"/>
<text x="290" y="197" font-family="Liberation Serif" font-size="10.5" letter-spacing="1.5">DI<tspan font-size="8.5" dy="2.6" letter-spacing="1.5">max</tspan></text>
<path d="M130.7 241.9H167.4M130.7 237V247.2M167.4 237V246.6M376 149.9H416.5M376.6 144.7V153.4M415.9 143.8V152.5" stroke="#c4c4c4" stroke-width="2" fill="none"/>
<text x="135" y="259.6" font-family="Liberation Serif" font-size="14.5">0<tspan font-size="12.5" dy="2.4">min</tspan></text>
<text x="422.5" y="155.6" font-family="Liberation Serif" font-size="14.5">0<tspan font-size="12.5" dy="2.2">hyp</tspan></text>
</svg>
</body></html>
